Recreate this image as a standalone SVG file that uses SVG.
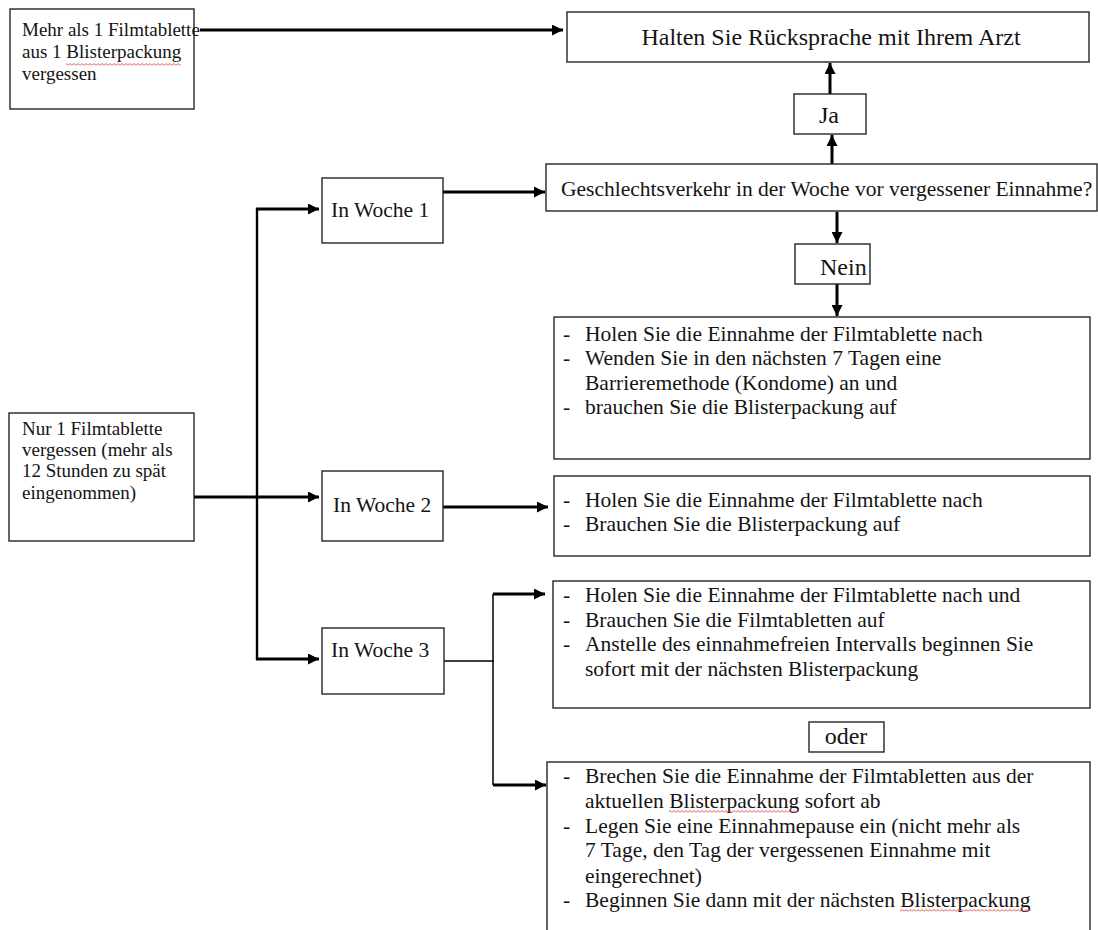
<svg xmlns="http://www.w3.org/2000/svg" width="1098" height="930" viewBox="0 0 1098 930">
<defs>
<style>
.box{fill:#fff;stroke:#262626;stroke-width:1.4}
.t{font-family:"Liberation Serif","Times New Roman",serif;fill:#141414}
.s19{font-size:19px}
.s21{font-size:21.5px}
.s24{font-size:24px}
.c{text-anchor:middle}
.thick{stroke:#000;stroke-width:3;fill:none}
.mid{stroke:#000;stroke-width:2.4;fill:none}
.thin{stroke:#000;stroke-width:1.5;fill:none}
.arr{marker-end:url(#ah)}
.sq{fill:url(#squig)}
</style>
<marker id="ah" markerUnits="userSpaceOnUse" markerWidth="12" markerHeight="11" refX="11" refY="5.5" orient="auto"><path d="M0,0 L11,5.5 L0,11 z" fill="#000"/></marker>
<pattern id="squig" patternUnits="userSpaceOnUse" width="4" height="3"><path d="M0,2.5 L2,0.5 L4,2.5" fill="none" stroke="#e03a3a" stroke-width="0.9"/></pattern>
</defs>
<rect width="1098" height="930" fill="#fff"/>

<g id="connectors">
<path class="thick arr" d="M200,30 H563"/>
<path class="thick arr" d="M832,164 V135"/>
<path class="thick arr" d="M830,94 V63"/>
<path class="thick arr" d="M837,212 V243"/>
<path class="thick arr" d="M837,284 V316"/>
<path class="thick arr" d="M443,192 H545"/>
<path class="mid" d="M257,208 V660"/>
<path class="thick arr" d="M256,209 H319"/>
<path class="thick arr" d="M194,497 H319"/>
<path class="thick arr" d="M256,659 H319"/>
<path class="thick arr" d="M443,507 H548"/>
<path class="thin" d="M444,661 H494"/>
<path class="thin" d="M493,594 V785"/>
<path class="thick arr" d="M493,594 H545"/>
<path class="thick arr" d="M493,785 H546"/>
</g>

<g id="node-mehr">
<rect class="box" x="10" y="9" width="184" height="100"/>
<text class="t s19" x="22" y="36">Mehr als 1 Filmtablette</text>
<text class="t s19" x="22" y="58">aus 1 Blisterpackung</text>
<text class="t s19" x="22" y="80">vergessen</text>
<rect class="sq" x="66" y="63" width="115" height="3"/>
</g>

<g id="node-arzt">
<rect class="box" x="567" y="12" width="522" height="50"/>
<text class="t s24 c" x="831" y="45">Halten Sie Rücksprache mit Ihrem Arzt</text>
</g>

<g id="node-ja">
<rect class="box" x="794" y="94" width="72" height="40"/>
<text class="t s24 c" x="829" y="123">Ja</text>
</g>

<g id="node-geschl">
<rect class="box" x="546" y="164" width="551" height="47"/>
<text class="t s21" x="561" y="196">Geschlechtsverkehr in der Woche vor vergessener Einnahme?</text>
</g>

<g id="node-nein">
<rect class="box" x="795" y="244" width="75" height="40"/>
<text class="t s24" x="820" y="275">Nein</text>
</g>

<g id="node-woche1-list">
<rect class="box" x="554" y="317" width="536" height="142"/>
<text class="t s21" x="563" y="341">-</text>
<text class="t s21" x="585" y="341">Holen Sie die Einnahme der Filmtablette nach</text>
<text class="t s21" x="563" y="365">-</text>
<text class="t s21" x="585" y="365">Wenden Sie in den nächsten 7 Tagen eine</text>
<text class="t s21" x="585" y="390">Barrieremethode (Kondome) an und</text>
<text class="t s21" x="563" y="414">-</text>
<text class="t s21" x="585" y="414">brauchen Sie die Blisterpackung auf</text>
</g>

<g id="node-woche1">
<rect class="box" x="322" y="178" width="121" height="65"/>
<text class="t s21" x="331" y="217">In Woche 1</text>
</g>

<g id="node-nur1">
<rect class="box" x="9" y="413" width="185" height="128"/>
<text class="t s19" x="22" y="435">Nur 1 Filmtablette</text>
<text class="t s19" x="22" y="456">vergessen (mehr als</text>
<text class="t s19" x="22" y="477">12 Stunden zu spät</text>
<text class="t s19" x="22" y="499">eingenommen)</text>
</g>

<g id="node-woche2">
<rect class="box" x="322" y="471" width="121" height="70"/>
<text class="t s21" x="333" y="512">In Woche 2</text>
</g>

<g id="node-woche2-list">
<rect class="box" x="554" y="476" width="536" height="80"/>
<text class="t s21" x="563" y="507">-</text>
<text class="t s21" x="585" y="507">Holen Sie die Einnahme der Filmtablette nach</text>
<text class="t s21" x="563" y="531">-</text>
<text class="t s21" x="585" y="531">Brauchen Sie die Blisterpackung auf</text>
</g>

<g id="node-woche3">
<rect class="box" x="322" y="628" width="122" height="66"/>
<text class="t s21" x="331" y="657">In Woche 3</text>
</g>

<g id="node-woche3-list1">
<rect class="box" x="553" y="581" width="537" height="127"/>
<text class="t s21" x="563" y="602">-</text>
<text class="t s21" x="585" y="602">Holen Sie die Einnahme der Filmtablette nach und</text>
<text class="t s21" x="563" y="627">-</text>
<text class="t s21" x="585" y="627">Brauchen Sie die Filmtabletten auf</text>
<text class="t s21" x="563" y="651">-</text>
<text class="t s21" x="585" y="651">Anstelle des einnahmefreien Intervalls beginnen Sie</text>
<text class="t s21" x="585" y="676">sofort mit der nächsten Blisterpackung</text>
</g>

<g id="node-oder">
<rect class="box" x="809" y="722" width="75" height="30"/>
<text class="t s24 c" x="846" y="744">oder</text>
</g>

<g id="node-woche3-list2">
<rect class="box" x="547" y="762" width="543" height="180"/>
<text class="t s21" x="563" y="783">-</text>
<text class="t s21" x="585" y="783">Brechen Sie die Einnahme der Filmtabletten aus der</text>
<text class="t s21" x="585" y="808">aktuellen Blisterpackung sofort ab</text>
<rect class="sq" x="669" y="810" width="130" height="3"/>
<text class="t s21" x="563" y="833">-</text>
<text class="t s21" x="585" y="833">Legen Sie eine Einnahmepause ein (nicht mehr als</text>
<text class="t s21" x="585" y="857">7 Tage, den Tag der vergessenen Einnahme mit</text>
<text class="t s21" x="585" y="883">eingerechnet)</text>
<text class="t s21" x="563" y="907">-</text>
<text class="t s21" x="585" y="907">Beginnen Sie dann mit der nächsten Blisterpackung</text>
<rect class="sq" x="900" y="909" width="131" height="3"/>
</g>
</svg>
